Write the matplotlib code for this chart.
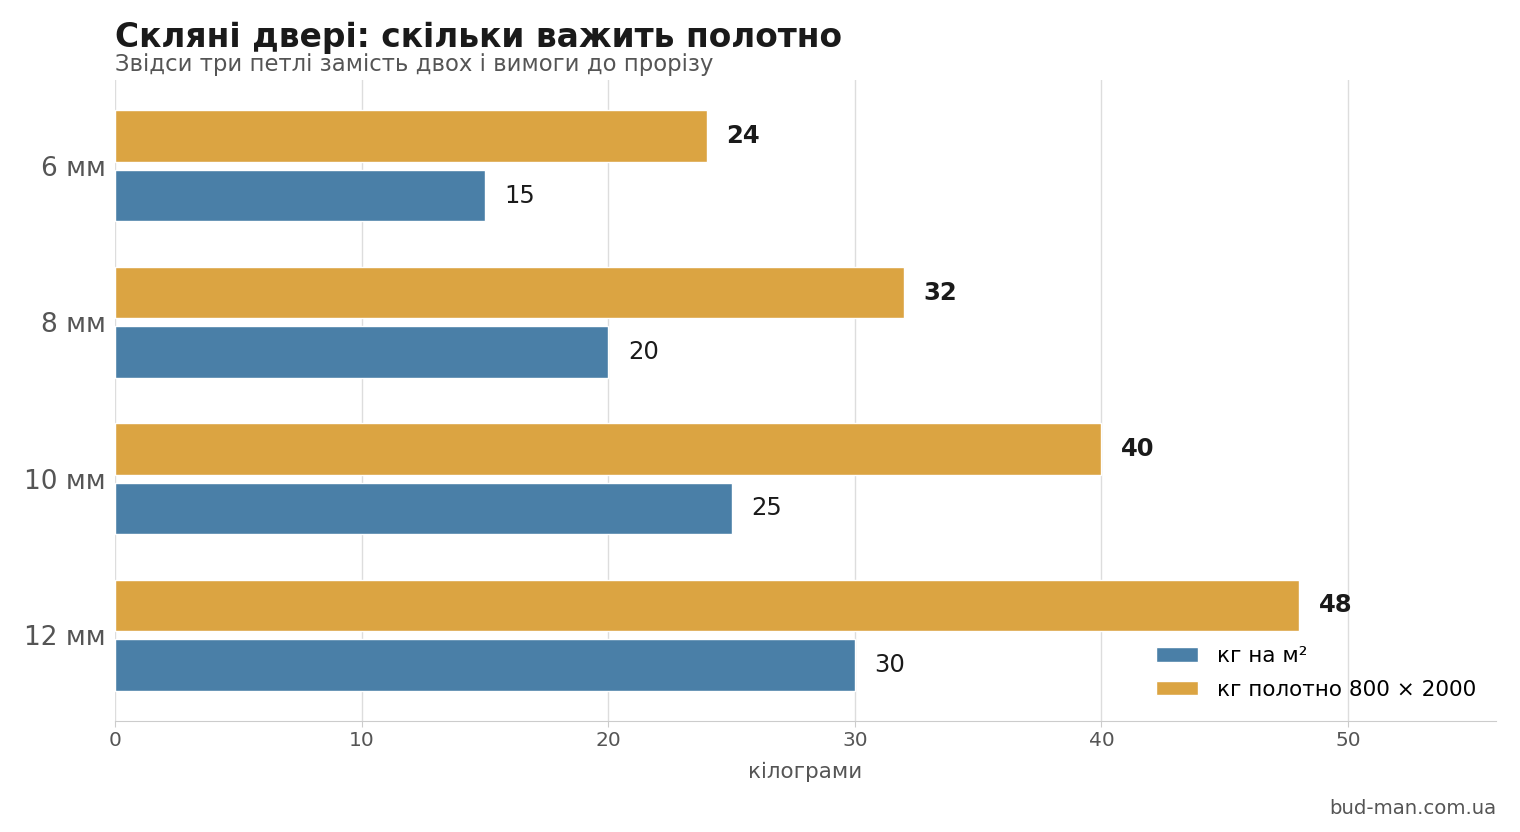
import matplotlib.pyplot as plt
import numpy as np

plt.rcParams['font.family'] = ['DejaVu Sans']

# data
categories = ["6 мм", "8 мм", "10 мм", "12 мм"]
kg_per_m2 = [15, 20, 25, 30]
kg_leaf = [24, 32, 40, 48]

blue = "#4a7fa7"
orange = "#dba442"
gray = "#555555"

fig = plt.figure(figsize=(15.2, 8.32), dpi=100)
ax = fig.add_axes([115 / 1520, 1 - 721 / 832, (1496 - 115) / 1520, (721 - 80) / 832])

y = np.arange(len(categories))
h = 0.33
ax.barh(y + 0.19, kg_per_m2, height=h, color=blue, edgecolor="white", linewidth=1, label="кг на м²", zorder=2)
ax.barh(y - 0.19, kg_leaf, height=h, color=orange, edgecolor="white", linewidth=1, label="кг полотно 800 × 2000", zorder=2)

for i, v in enumerate(kg_per_m2):
    ax.text(v + 0.8, y[i] + 0.19, str(v), va="center", ha="left", fontsize=17.5, color="#1a1a1a")
for i, v in enumerate(kg_leaf):
    ax.text(v + 0.8, y[i] - 0.19, str(v), va="center", ha="left", fontsize=17.5, fontweight="bold", color="#1a1a1a")

ax.set_xlim(0, 56)
ax.set_ylim(3.55, -0.55)
ax.set_yticks(y)
ax.set_yticklabels(categories, fontsize=19, color=gray)
ax.set_xticks([0, 10, 20, 30, 40, 50])
ax.tick_params(axis="x", labelsize=14.5, labelcolor=gray, length=4, color="#cccccc")
ax.tick_params(axis="y", length=0, pad=6.8)
ax.set_xlabel("кілограми", fontsize=15.5, color=gray, labelpad=8)

ax.grid(axis="x", color="#dddddd", linewidth=1, zorder=0)
ax.set_axisbelow(True)
for s in ["top", "right", "left"]:
    ax.spines[s].set_visible(False)
ax.spines["bottom"].set_color("#cccccc")

leg = ax.legend(loc="lower right", frameon=False, fontsize=15.5, handlelength=1.95, handleheight=0.65,
                handletextpad=0.85, labelspacing=0.64, bbox_to_anchor=(0.9995, 0.003))

fig.text(115 / 1520, 1 - 37 / 832, "Скляні двері: скільки важить полотно", fontsize=23.7, fontweight="bold",
         color="#1a1a1a", va="center", ha="left")
fig.text(115 / 1520, 1 - 64.5 / 832, "Звідси три петлі замість двох і вимоги до прорізу", fontsize=16.4,
         color=gray, va="center", ha="left")
fig.text(1496 / 1520, 1 - 808 / 832, "bud-man.com.ua", fontsize=14.2, color=gray, va="center", ha="right")

fig.savefig("out.png", dpi=100)
